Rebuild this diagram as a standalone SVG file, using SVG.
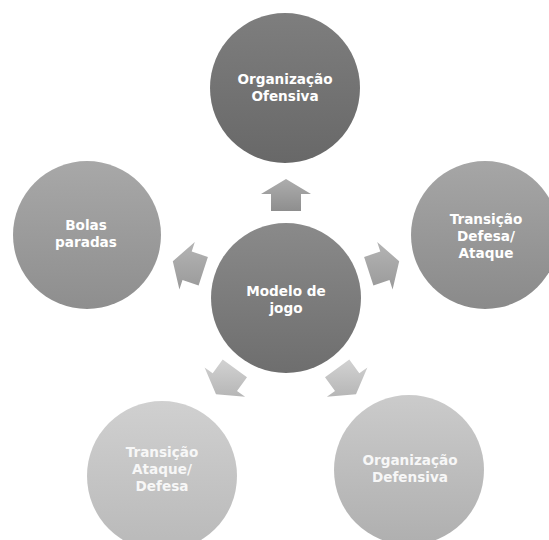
<svg xmlns="http://www.w3.org/2000/svg" width="549" height="540" viewBox="0 0 549 540">
<defs>
<linearGradient id="gTop" x1="0" y1="0" x2="0" y2="1"><stop offset="0" stop-color="#7e7e7e"/><stop offset="1" stop-color="#686868"/></linearGradient>
<linearGradient id="gCenter" x1="0" y1="0" x2="0" y2="1"><stop offset="0" stop-color="#8a8a8a"/><stop offset="1" stop-color="#6e6e6e"/></linearGradient>
<linearGradient id="gRight" x1="0" y1="0" x2="0" y2="1"><stop offset="0" stop-color="#a6a6a6"/><stop offset="1" stop-color="#8a8a8a"/></linearGradient>
<linearGradient id="gLeft" x1="0" y1="0" x2="0" y2="1"><stop offset="0" stop-color="#a8a8a8"/><stop offset="1" stop-color="#8e8e8e"/></linearGradient>
<linearGradient id="gBL" x1="0" y1="0" x2="0" y2="1"><stop offset="0" stop-color="#d0d0d0"/><stop offset="1" stop-color="#b9b9b9"/></linearGradient>
<linearGradient id="gBR" x1="0" y1="0" x2="0" y2="1"><stop offset="0" stop-color="#cbcbcb"/><stop offset="1" stop-color="#afafaf"/></linearGradient>
<linearGradient id="aUp" x1="0" y1="0" x2="0" y2="1"><stop offset="0" stop-color="#adadad"/><stop offset="1" stop-color="#8e8e8e"/></linearGradient>
<linearGradient id="aSide" x1="0" y1="0" x2="0" y2="1"><stop offset="0" stop-color="#b4b4b4"/><stop offset="1" stop-color="#9a9a9a"/></linearGradient>
<linearGradient id="aBot" x1="0" y1="0" x2="0" y2="1"><stop offset="0" stop-color="#d2d2d2"/><stop offset="1" stop-color="#b6b6b6"/></linearGradient>
</defs>
<style>
text{font-family:"DejaVu Sans","Liberation Sans",sans-serif;font-size:13.6px;font-weight:bold;fill:#ffffff;text-anchor:middle}
.light text{fill:#f7f7f7}
</style>
<g id="connectors">
<polygon points="286,179 311,194 301,194 301,211 271,211 271,194 261,194" fill="url(#aUp)"/>
<polygon points="399.2,261.2 392.6,289.6 389.5,280.1 373.4,285.4 364.1,256.9 380.3,251.6 377.2,242.1" fill="url(#aSide)"/>
<polygon points="172.8,261.2 179.4,289.6 182.5,280.1 198.6,285.4 207.9,256.9 191.7,251.6 194.8,242.1" fill="url(#aSide)"/>
<polygon points="356.0,394.3 326.9,396.8 335.0,391.0 325.0,377.2 349.3,359.6 359.3,373.3 367.4,367.4" fill="url(#aBot)"/>
<polygon points="216.0,394.3 245.1,396.8 237.0,391.0 247.0,377.2 222.7,359.6 212.7,373.3 204.6,367.4" fill="url(#aBot)"/>
</g>
<g id="center">
<circle cx="286" cy="298" r="75" fill="url(#gCenter)"/>
<text x="286" y="296">Modelo de</text>
<text x="286" y="313">jogo</text>
</g>
<g id="top">
<circle cx="285" cy="88" r="75" fill="url(#gTop)"/>
<text x="285" y="84">Organização</text>
<text x="285" y="101">Ofensiva</text>
</g>
<g id="right">
<circle cx="485" cy="235" r="74" fill="url(#gRight)"/>
<text x="486" y="224">Transição</text>
<text x="486" y="241">Defesa/</text>
<text x="486" y="258">Ataque</text>
</g>
<g id="left">
<circle cx="87" cy="235" r="74" fill="url(#gLeft)"/>
<text x="86" y="230">Bolas</text>
<text x="86" y="247">paradas</text>
</g>
<g id="bottomLeft" class="light">
<circle cx="162" cy="476" r="75" fill="url(#gBL)"/>
<text x="162" y="457">Transição</text>
<text x="162" y="474">Ataque/</text>
<text x="162" y="491">Defesa</text>
</g>
<g id="bottomRight" class="light">
<circle cx="409" cy="470" r="75" fill="url(#gBR)"/>
<text x="410" y="465">Organização</text>
<text x="410" y="482">Defensiva</text>
</g>
</svg>
